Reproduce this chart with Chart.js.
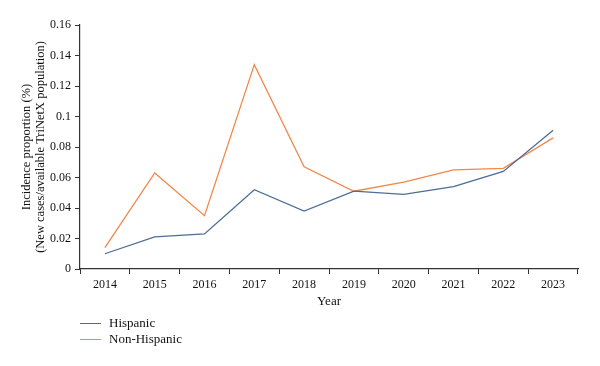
<!DOCTYPE html>
<html><head><meta charset="utf-8">
<script src="https://cdn.jsdelivr.net/npm/chart.js@4/dist/chart.umd.min.js"></script>
<style>
html,body{margin:0;padding:0;background:#fff;}
#wrap{position:relative;width:600px;height:366px;}
#legend{position:absolute;left:80px;top:315px;font-family:"Liberation Serif",serif;font-size:13px;color:#111;}
.li{display:flex;align-items:center;height:16px;}
.sw{width:21px;height:0;border-top:1.5px solid;margin-right:8px;}
</style></head>
<body><div id="wrap"><canvas id="c" width="600" height="366"></canvas><div id="legend"></div></div>
<script>
const years = ["2014","2015","2016","2017","2018","2019","2020","2021","2022","2023"];
const hispanic = [0.010,0.021,0.023,0.052,0.038,0.051,0.049,0.054,0.064,0.091];
const nonHispanic = [0.014,0.063,0.035,0.134,0.067,0.051,0.057,0.065,0.066,0.086];
const seriesNames = ["Hispanic","Non-Hispanic"];
const seriesColors = ["#4d6d96","#f2874a"];
const yTitle = ["Incidence proportion (%)","(New cases/available TriNetX population)"];
const xTitle = "Year";

const font = {family:"'Liberation Serif', serif", size:12};
const axisColor = "#333";
const textColor = "#111";
const chart = new Chart(document.getElementById('c'), {
  type:'line',
  data:{labels:years, datasets:[
    {label:seriesNames[0], data:hispanic, borderColor:seriesColors[0], borderWidth:1.3, pointRadius:0, tension:0},
    {label:seriesNames[1], data:nonHispanic, borderColor:seriesColors[1], borderWidth:1.3, pointRadius:0, tension:0}
  ]},
  options:{
    responsive:false, animation:false,
    layout:{padding:{left:20,right:22,top:25,bottom:57}},
    plugins:{legend:{display:false}, tooltip:{enabled:false}},
    scales:{
      x:{offset:true,
        grid:{offset:true, drawOnChartArea:false, drawTicks:true, tickLength:5, color:axisColor, lineWidth:1},
        border:{display:true,color:axisColor,width:1.2},
        ticks:{font:font,color:textColor,padding:4,maxRotation:0},
        title:{display:true,text:xTitle,font:{family:font.family,size:13},color:textColor,padding:{top:0,bottom:0}},
        afterFit:(s)=>{s.height=40;}
      },
      y:{min:0,max:0.16,
        grid:{drawOnChartArea:false, drawTicks:true, tickLength:5, color:axisColor, lineWidth:1},
        border:{display:true,color:axisColor,width:1.2},
        ticks:{stepSize:0.02,font:font,color:textColor,padding:4,callback:(v)=>String(parseFloat(v.toFixed(2)))},
        title:{display:true,text:yTitle,font:{family:font.family,size:12.5,lineHeight:1.1},color:textColor,padding:{top:0,bottom:3}},
        afterFit:(s)=>{s.width=60;}
      }
    }
  }
});
const lg=document.getElementById('legend');
chart.data.datasets.forEach(d=>{
  const r=document.createElement('div');r.className='li';
  const s=document.createElement('span');s.className='sw';s.style.borderColor=d.borderColor;
  const t=document.createElement('span');t.textContent=d.label;
  r.appendChild(s);r.appendChild(t);lg.appendChild(r);
});
</script></body></html>
